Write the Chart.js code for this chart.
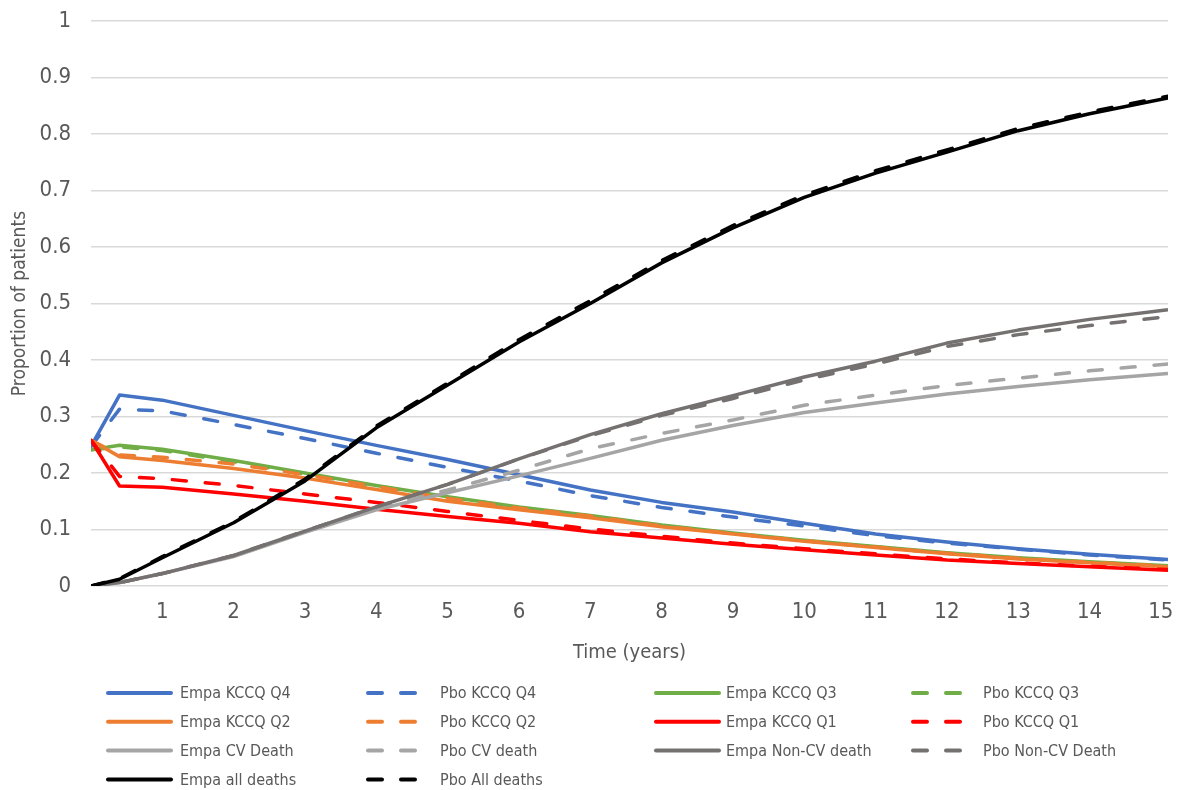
<!DOCTYPE html>
<html>
<head>
<meta charset="utf-8">
<script src="https://cdn.jsdelivr.net/npm/chart.js@4.4.1/dist/chart.umd.min.js"></script>
<style>
  html, body { margin: 0; padding: 0; background: #ffffff; }
  #wrap { width: 1178px; height: 790px; position: relative; }
</style>
</head>
<body>
<div id="wrap"><canvas id="c" width="1178" height="790"></canvas></div>
<script>
// ---- Data ----
const years = [0, 0.4, 1, 2, 3, 4, 5, 6, 7, 8, 9, 10, 11, 12, 13, 14, 15.1];

const empaQ4 = [0.247,0.338,0.329,0.302,0.275,0.249,0.224,0.197,0.170,0.148,0.131,0.111,0.092,0.078,0.066,0.056,0.047];
const pboQ4  = [0.247,0.313,0.310,0.286,0.261,0.235,0.210,0.186,0.160,0.139,0.122,0.106,0.089,0.076,0.065,0.055,0.046];
const empaQ3 = [0.241,0.249,0.242,0.222,0.200,0.178,0.158,0.140,0.125,0.108,0.094,0.081,0.070,0.059,0.050,0.043,0.036];
const pboQ3  = [0.241,0.246,0.240,0.220,0.198,0.177,0.157,0.139,0.124,0.107,0.093,0.080,0.069,0.058,0.049,0.042,0.035];
const empaQ2 = [0.258,0.229,0.222,0.208,0.191,0.171,0.150,0.135,0.121,0.105,0.092,0.079,0.068,0.057,0.048,0.041,0.034];
const pboQ2  = [0.258,0.232,0.228,0.216,0.197,0.176,0.155,0.138,0.124,0.106,0.093,0.080,0.069,0.058,0.049,0.042,0.035];
const empaQ1 = [0.258,0.177,0.175,0.163,0.150,0.136,0.123,0.111,0.096,0.085,0.074,0.064,0.055,0.046,0.040,0.034,0.028];
const pboQ1  = [0.258,0.194,0.190,0.178,0.163,0.148,0.132,0.116,0.101,0.088,0.076,0.066,0.057,0.048,0.041,0.035,0.029];
const empaCV = [0,0.006,0.022,0.052,0.095,0.135,0.165,0.195,0.226,0.258,0.284,0.307,0.324,0.340,0.353,0.365,0.376];
const pboCV  = [0,0.006,0.022,0.054,0.098,0.138,0.170,0.205,0.243,0.270,0.294,0.320,0.338,0.355,0.368,0.381,0.393];
const empaNonCV = [0,0.006,0.022,0.054,0.097,0.140,0.180,0.225,0.268,0.305,0.337,0.370,0.398,0.430,0.453,0.472,0.489];
const pboNonCV  = [0,0.006,0.022,0.054,0.097,0.140,0.180,0.225,0.266,0.302,0.332,0.365,0.393,0.424,0.445,0.461,0.477];
const empaAll = [0,0.012,0.050,0.112,0.186,0.280,0.356,0.432,0.500,0.572,0.634,0.688,0.731,0.768,0.806,0.836,0.864];
const pboAll  = [0,0.013,0.052,0.114,0.189,0.283,0.359,0.436,0.505,0.576,0.638,0.692,0.735,0.772,0.810,0.839,0.867];

const seriesNames = [
  'Empa KCCQ Q4','Pbo KCCQ Q4','Empa KCCQ Q3','Pbo KCCQ Q3',
  'Empa KCCQ Q2','Pbo KCCQ Q2','Empa KCCQ Q1','Pbo KCCQ Q1',
  'Empa CV Death','Pbo CV death','Empa Non-CV death','Pbo Non-CV Death',
  'Empa all deaths','Pbo All deaths'
];
const seriesValues = [empaQ4,pboQ4,empaQ3,pboQ3,empaQ2,pboQ2,empaQ1,pboQ1,empaCV,pboCV,empaNonCV,pboNonCV,empaAll,pboAll];

const xTickValues = [1,2,3,4,5,6,7,8,9,10,11,12,13,14,15];
const yTickLabels = ['0','0.1','0.2','0.3','0.4','0.5','0.6','0.7','0.8','0.9','1'];

// ---- Styles ----
const seriesColors = ['#4472C4','#4472C4','#70AD47','#70AD47','#ED7D31','#ED7D31','#FF0000','#FF0000',
                      '#A5A5A5','#A5A5A5','#767171','#767171','#000000','#000000'];
const seriesDashed = [false,true,false,true,false,true,false,true,false,true,false,true,false,true];

const FONT = "'Liberation Sans Narrow', 'Arial Narrow', 'DejaVu Sans Condensed', sans-serif";
const TXT = '#595959';
const N = seriesNames.length;

const datasets = seriesNames.map((name, i) => ({
  label: name,
  data: seriesValues[i].map((v, k) => ({ x: years[k], y: v })),
  borderColor: seriesColors[i],
  backgroundColor: seriesColors[i],
  borderWidth: 3.5,
  borderDash: seriesDashed[i] ? [14, 19] : [],
  borderCapStyle: seriesDashed[i] ? 'round' : 'butt',
  borderJoinStyle: 'round',
  pointRadius: 0,
  pointHoverRadius: 0,
  tension: 0,
  fill: false,
  order: N - i
}));

const legendPlugin = {
  id: 'customLegend',
  afterDraw(chart) {
    const ctx = chart.ctx;
    const colLineX = [106, 366, 654, 911];
    const colTextX = [180, 440, 726, 983];
    const rowY0 = 693, rowStep = 28.8;
    ctx.save();
    ctx.font = "16px " + FONT;
    ctx.textBaseline = 'middle';
    ctx.textAlign = 'left';
    chart.data.datasets.forEach((ds, i) => {
      const col = i % 4, row = Math.floor(i / 4);
      const y = rowY0 + row * rowStep;
      const dashed = seriesDashed[i];
      ctx.strokeStyle = ds.borderColor;
      ctx.lineWidth = 4;
      ctx.beginPath();
      ctx.lineCap = 'round';
      if (dashed) {
        ctx.setLineDash([14, 19]);
        ctx.moveTo(colLineX[col] + 2, y);
        ctx.lineTo(colLineX[col] + 53, y);
      } else {
        ctx.setLineDash([]);
        ctx.moveTo(colLineX[col] + 2, y);
        ctx.lineTo(colLineX[col] + 65, y);
      }
      ctx.stroke();
      ctx.setLineDash([]);
      ctx.fillStyle = TXT;
      ctx.fillText(ds.label, colTextX[col], y + 1);
    });
    ctx.restore();
  }
};

new Chart(document.getElementById('c'), {
  type: 'line',
  data: { datasets },
  options: {
    responsive: false,
    animation: false,
    events: [],
    layout: { padding: { top: 21, right: 10, bottom: 121, left: 0 } },
    plugins: { legend: { display: false }, tooltip: { enabled: false } },
    scales: {
      x: {
        type: 'linear',
        min: 0,
        max: 15.1,
        grid: { display: false, drawTicks: false },
        border: { display: false },
        afterBuildTicks: (scale) => { scale.ticks = xTickValues.map(v => ({ value: v })); },
        afterFit: (scale) => { scale.height = 83; },
        ticks: {
          autoSkip: false,
          maxRotation: 0,
          padding: 0,
          color: TXT,
          font: { family: FONT, size: 22, lineHeight: 2.36 },
          callback: (v) => String(v)
        },
        title: {
          display: true,
          text: 'Time (years)',
          color: TXT,
          font: { family: FONT, size: 20 },
          padding: { top: 4, bottom: 4 }
        }
      },
      y: {
        min: 0,
        max: 1,
        afterBuildTicks: (scale) => { scale.ticks = yTickLabels.map((t, k) => ({ value: k / 10 })); },
        afterFit: (scale) => { scale.width = 91; },
        grid: { color: '#D9D9D9', lineWidth: 1.5, drawTicks: false },
        border: { display: false },
        ticks: {
          padding: 20,
          color: TXT,
          font: { family: FONT, size: 22, lineHeight: 0.1 },
          callback: (v, idx) => yTickLabels[idx]
        },
        title: {
          display: true,
          text: 'Proportion of patients',
          color: TXT,
          font: { family: FONT, size: 19 },
          padding: { top: 9, bottom: 4 }
        }
      }
    }
  },
  plugins: [legendPlugin]
});
</script>
</body>
</html>
